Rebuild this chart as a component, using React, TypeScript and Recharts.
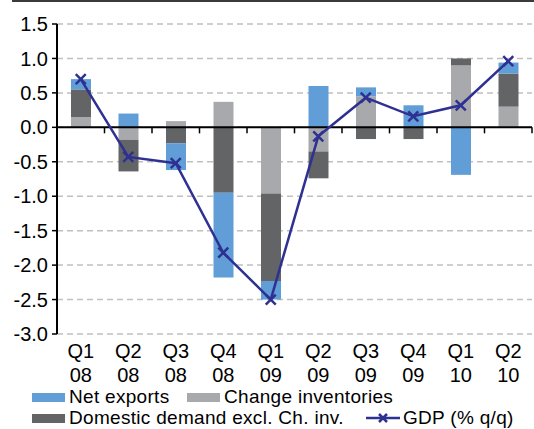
import React from 'react';
import {
  ComposedChart,
  Bar,
  Line,
  XAxis,
  YAxis,
  CartesianGrid,
  ReferenceLine,
  Legend,
} from 'recharts';

const quarters = ['Q1 08', 'Q2 08', 'Q3 08', 'Q4 08', 'Q1 09', 'Q2 09', 'Q3 09', 'Q4 09', 'Q1 10', 'Q2 10'];
const netExports = [0.15, 0.2, -0.39, -1.23, -0.27, 0.6, 0.13, 0.32, -0.69, 0.16];
const changeInventories = [0.15, -0.18, 0.09, 0.37, -0.96, -0.35, 0.45, 0.0, 0.9, 0.3];
const domesticDemand = [0.4, -0.46, -0.23, -0.95, -1.27, -0.39, -0.17, -0.17, 0.1, 0.48];
const gdp = [0.7, -0.43, -0.52, -1.82, -2.5, -0.13, 0.43, 0.16, 0.32, 0.96];
const yTicks = [-3, -2.5, -2, -1.5, -1, -0.5, 0, 0.5, 1, 1.5];

const data = quarters.map((q, i) => ({
  name: q,
  net: netExports[i],
  inv: changeInventories[i],
  dom: domesticDemand[i],
  gdp: gdp[i],
}));

const BLUE = '#619dd6';
const LIGHT = '#a7a9ac';
const DARK = '#636466';
const NAVY = '#2e3192';
const FONT = '"Liberation Sans", Arial, sans-serif';

const XMark = ({ cx, cy, size = 5 }: { cx: number; cy: number; size?: number }) => (
  <g stroke={NAVY} strokeWidth={2.5}>
    <line x1={cx - size} y1={cy - size} x2={cx + size} y2={cy + size} />
    <line x1={cx - size} y1={cy + size} x2={cx + size} y2={cy - size} />
  </g>
);

const QuarterTick = ({ x, y, payload }: any) => {
  const [q, yr] = String(payload.value).split(' ');
  return (
    <text x={x} y={y} textAnchor="middle" fill="#000" fontSize={20} fontFamily={FONT}>
      <tspan x={x} dy={24}>{q}</tspan>
      <tspan x={x} dy={24}>{yr}</tspan>
    </text>
  );
};

const ZeroLine = (p: any) => {
  const { x1, x2, y1 } = p;
  const step = (x2 - x1) / quarters.length;
  return (
    <g stroke="#000">
      <line x1={x1} y1={y1} x2={x2} y2={y1} strokeWidth={2} />
      {quarters.map((_, i) => (
        <line key={i} x1={x1 + step * (i + 1)} y1={y1} x2={x1 + step * (i + 1)} y2={y1 + 6} strokeWidth={1.5} />
      ))}
    </g>
  );
};

const Swatch = ({ color }: { color: string }) => (
  <span style={{ display: 'inline-block', width: 33, height: 9, background: color, marginRight: 4 }} />
);

const legendText: React.CSSProperties = {
  fontSize: 19,
  letterSpacing: 0.3,
  fontFamily: FONT,
  color: '#000',
  lineHeight: '20px',
  whiteSpace: 'nowrap',
};

const ChartLegend = () => (
  <div style={{ position: 'relative', width: 534, height: 45 }}>
    <div style={{ position: 'absolute', left: 32, top: 3, display: 'flex', alignItems: 'center', ...legendText }}>
      <Swatch color={BLUE} />Net exports
    </div>
    <div style={{ position: 'absolute', left: 187, top: 3, display: 'flex', alignItems: 'center', ...legendText }}>
      <Swatch color={LIGHT} />Change inventories
    </div>
    <div style={{ position: 'absolute', left: 32, top: 24, display: 'flex', alignItems: 'center', ...legendText }}>
      <Swatch color={DARK} />Domestic demand excl. Ch. inv.
    </div>
    <div style={{ position: 'absolute', left: 366, top: 24, display: 'flex', alignItems: 'center', ...legendText }}>
      <svg width={34} height={14} style={{ marginRight: 3 }}>
        <line x1={0} y1={7} x2={34} y2={7} stroke={NAVY} strokeWidth={2.5} />
        <XMark cx={17} cy={7} size={4} />
      </svg>
      GDP (% q/q)
    </div>
  </div>
);

export default function App() {
  return (
    <div style={{ position: 'absolute', left: 0, top: 0, width: 534, height: 429, background: '#fff', overflow: 'hidden' }}>
      <div style={{ position: 'absolute', left: 12, top: 0, width: 522, height: 2, background: '#3a3a3a' }} />
      <ComposedChart
        width={534}
        height={429}
        data={data}
        stackOffset="sign"
        margin={{ top: 24, right: 2, bottom: 0, left: 0 }}
      >
        <CartesianGrid vertical={false} stroke="#c0c0c0" strokeDasharray="6 4" strokeWidth={1.5} />
        <XAxis
          dataKey="name"
          height={50}
          axisLine={false}
          tickLine={false}
          tickSize={0}
          tickMargin={0}
          interval={0}
          tick={<QuarterTick />}
        />
        <YAxis
          width={57}
          domain={[-3, 1.5]}
          ticks={yTicks}
          interval={0}
          tickFormatter={(v: number) => v.toFixed(1)}
          axisLine={{ stroke: '#000', strokeWidth: 2 }}
          tickLine={{ stroke: '#000', strokeWidth: 1.5 }}
          tickSize={5}
          tickMargin={4}
          tick={{ fill: '#000', fontSize: 20, fontFamily: FONT }}
        />
        <Bar dataKey="inv" name="Change inventories" stackId="a" fill={LIGHT} barSize={20} isAnimationActive={false} />
        <Bar dataKey="dom" name="Domestic demand excl. Ch. inv." stackId="a" fill={DARK} barSize={20} isAnimationActive={false} />
        <Bar dataKey="net" name="Net exports" stackId="a" fill={BLUE} barSize={20} isAnimationActive={false} />
        <ReferenceLine y={0} shape={ZeroLine} />
        <Line
          dataKey="gdp"
          name="GDP (% q/q)"
          stroke={NAVY}
          strokeWidth={2.5}
          dot={(p: any) => <XMark key={p.index} cx={p.cx} cy={p.cy} />}
          activeDot={false}
          isAnimationActive={false}
        />
        <Legend verticalAlign="bottom" height={45} content={<ChartLegend />} />
      </ComposedChart>
    </div>
  );
}
